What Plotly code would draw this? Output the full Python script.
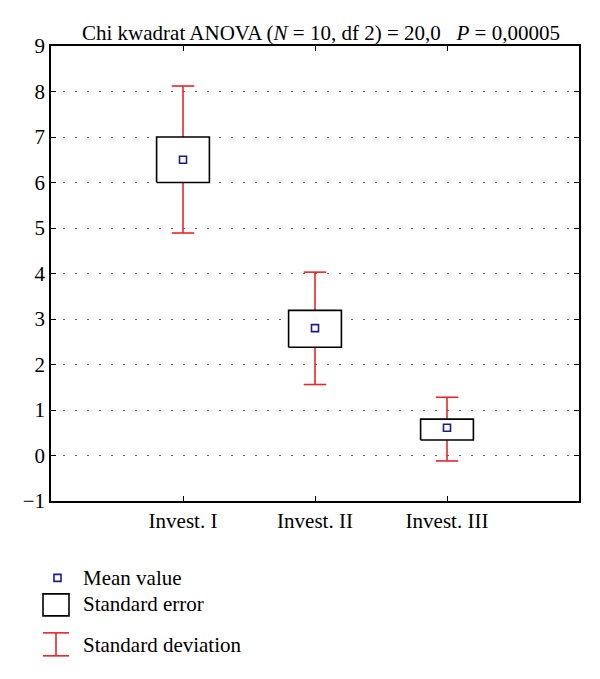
import plotly.graph_objects as go

categories = ["Invest. I", "Invest. II", "Invest. III"]
positions = [1, 2, 3]
mean_vals = [6.5, 2.8, 0.61]
se_low = [6.0, 2.38, 0.34]
se_high = [7.0, 3.19, 0.80]
sd_low = [4.89, 1.56, -0.12]
sd_high = [8.12, 4.03, 1.28]
y_ticks = list(range(-1, 10))
y_tick_labels = ["\u22121"] + [str(v) for v in range(0, 10)]

FONT = "Liberation Serif"
FS = 21
RED = "#e8262a"
NAVY = "#1c1c8a"
BOX_HALF = 0.2
CAP_HALF = 0.085

fig = go.Figure()

# SD whiskers (outside of the SE box) and caps
for x, lo, hi, slo, shi in zip(positions, se_low, se_high, sd_low, sd_high):
    fig.add_trace(go.Scatter(
        x=[x, x, None, x, x, None, x - CAP_HALF, x + CAP_HALF, None, x - CAP_HALF, x + CAP_HALF],
        y=[shi, hi, None, lo, slo, None, shi, shi, None, slo, slo],
        mode="lines", line=dict(color=RED, width=1.6), showlegend=False, hoverinfo="skip"))

# SE boxes
for x, lo, hi in zip(positions, se_low, se_high):
    fig.add_trace(go.Scatter(
        x=[x - BOX_HALF, x + BOX_HALF, x + BOX_HALF, x - BOX_HALF, x - BOX_HALF],
        y=[lo, lo, hi, hi, lo],
        mode="lines", fill="toself", fillcolor="white",
        line=dict(color="black", width=1.6), showlegend=False, hoverinfo="skip"))

# Means
fig.add_trace(go.Scatter(
    x=positions, y=mean_vals, mode="markers",
    marker=dict(symbol="square", size=7, color="white", line=dict(color=NAVY, width=1.6)),
    showlegend=False))

# page offset of the plot div (default body margin)
OFF = 8
W, H = 600, 679
plot_left, plot_right, plot_top, plot_bottom = 51, 579, 45.5, 501
L = plot_left - OFF
T = plot_top - OFF
R = W - (plot_right - OFF)
B = H - (plot_bottom - OFF)
pw, ph = plot_right - plot_left, plot_bottom - plot_top

def px(xp):
    return (xp - plot_left) / pw

def py(yp):
    return (plot_bottom - yp) / ph

fig.update_layout(
    width=W, height=H,
    margin=dict(l=L, r=R, t=T, b=B, pad=0),
    paper_bgcolor="white", plot_bgcolor="white",
    font=dict(family=FONT, size=FS, color="black"),
    showlegend=False,
    xaxis=dict(range=[0, 4], tickvals=positions, ticktext=categories,
               showgrid=False, zeroline=False, showline=True, linecolor="black", linewidth=1.6,
               mirror="ticks", ticks="inside", ticklen=5, tickcolor="black", tickwidth=1.2,
               tickfont=dict(family=FONT, size=FS)),
    yaxis=dict(range=[-1, 9], tickvals=y_ticks, ticktext=y_tick_labels,
               showgrid=True, gridcolor="#666666", gridwidth=1.2, griddash="1.5px,10.5px",
               zeroline=False, showline=True, linecolor="black", linewidth=1.6,
               mirror="ticks", ticks="inside", ticklen=5, tickcolor="black", tickwidth=1.2,
               tickfont=dict(family=FONT, size=FS)),
)

annotations = [
    dict(text="Chi kwadrat ANOVA (<i>N</i> = 10, df 2) = 20,0   <i>P</i> = 0,00005",
         x=px(321), y=py(32), xref="paper", yref="paper", xanchor="center", yanchor="middle",
         showarrow=False, font=dict(family=FONT, size=FS)),
    dict(text="Mean value", x=px(81), y=py(578), xref="paper", yref="paper",
         xanchor="left", yanchor="middle", showarrow=False, font=dict(family=FONT, size=FS)),
    dict(text="Standard error", x=px(81), y=py(604), xref="paper", yref="paper",
         xanchor="left", yanchor="middle", showarrow=False, font=dict(family=FONT, size=FS)),
    dict(text="Standard deviation", x=px(81), y=py(645), xref="paper", yref="paper",
         xanchor="left", yanchor="middle", showarrow=False, font=dict(family=FONT, size=FS)),
]
fig.update_layout(annotations=annotations)

shapes = [
    dict(type="rect", xref="paper", yref="paper", x0=px(54), x1=px(61), y0=py(574.5), y1=py(581.5),
         line=dict(color=NAVY, width=1.6), fillcolor="white"),
    dict(type="rect", xref="paper", yref="paper", x0=px(43), x1=px(69), y0=py(594), y1=py(616),
         line=dict(color="black", width=1.6), fillcolor="white"),
    dict(type="line", xref="paper", yref="paper", x0=px(56), x1=px(56), y0=py(633), y1=py(656),
         line=dict(color=RED, width=1.6)),
    dict(type="line", xref="paper", yref="paper", x0=px(43), x1=px(69), y0=py(633), y1=py(633),
         line=dict(color=RED, width=1.6)),
    dict(type="line", xref="paper", yref="paper", x0=px(43), x1=px(69), y0=py(656), y1=py(656),
         line=dict(color=RED, width=1.6)),
]
fig.update_layout(shapes=shapes)

fig.write_html("out.html")
